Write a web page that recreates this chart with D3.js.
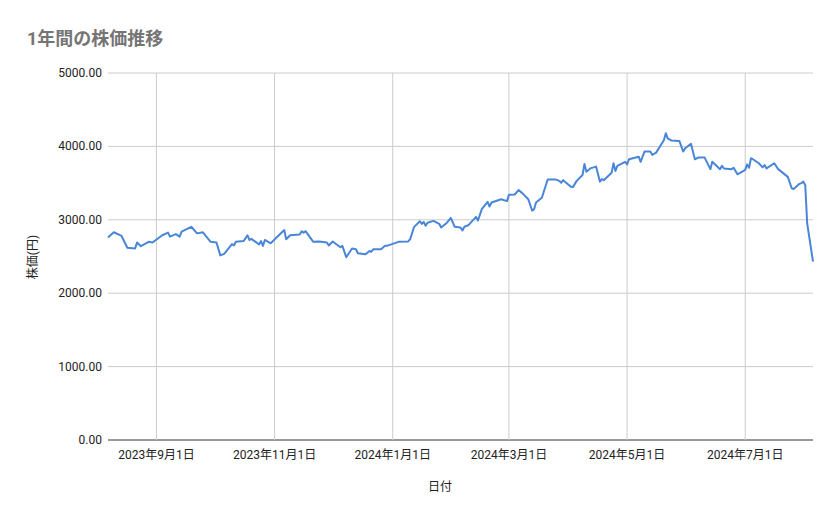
<!DOCTYPE html>
<html>
<head>
<meta charset="utf-8">
<script src="https://cdn.jsdelivr.net/npm/d3@7"></script>
<style>
body { margin: 0; background: #fff; }
text { font-family: Roboto, "Noto Sans CJK JP", sans-serif; }
</style>
</head>
<body>
<svg id="chart" width="839" height="519"></svg>
<script>
// values
var dates = [
 "2023-08-07","2023-08-10","2023-08-14","2023-08-17","2023-08-21","2023-08-22","2023-08-24","2023-08-28","2023-08-30",
 "2023-09-04","2023-09-07","2023-09-08","2023-09-11","2023-09-13","2023-09-14","2023-09-19","2023-09-22","2023-09-25","2023-09-29",
 "2023-10-02","2023-10-04","2023-10-06","2023-10-10","2023-10-11","2023-10-12","2023-10-16","2023-10-18","2023-10-19","2023-10-20",
 "2023-10-24","2023-10-25","2023-10-26","2023-10-27","2023-10-30",
 "2023-11-06","2023-11-07","2023-11-09","2023-11-14","2023-11-15","2023-11-16","2023-11-17","2023-11-21","2023-11-24","2023-11-28","2023-11-29",
 "2023-12-01","2023-12-05","2023-12-06","2023-12-08","2023-12-11","2023-12-13","2023-12-14","2023-12-18","2023-12-20","2023-12-21","2023-12-22",
 "2023-12-26","2023-12-28","2023-12-29",
 "2024-01-04","2024-01-09","2024-01-10","2024-01-12","2024-01-15","2024-01-16","2024-01-17","2024-01-18","2024-01-19","2024-01-22",
 "2024-01-25","2024-01-26","2024-01-29","2024-01-31",
 "2024-02-02","2024-02-05","2024-02-06","2024-02-07","2024-02-09","2024-02-13","2024-02-14","2024-02-16","2024-02-19","2024-02-20",
 "2024-02-21","2024-02-26","2024-02-29",
 "2024-03-01","2024-03-04","2024-03-06","2024-03-08","2024-03-11","2024-03-13","2024-03-14","2024-03-15","2024-03-18","2024-03-21",
 "2024-03-25","2024-03-27","2024-03-28","2024-03-29",
 "2024-04-02","2024-04-03","2024-04-05","2024-04-08","2024-04-09","2024-04-10","2024-04-12","2024-04-15","2024-04-17","2024-04-18",
 "2024-04-19","2024-04-23","2024-04-24","2024-04-25","2024-04-26","2024-04-30",
 "2024-05-01","2024-05-02","2024-05-07","2024-05-08","2024-05-10","2024-05-13","2024-05-14","2024-05-16","2024-05-20","2024-05-21",
 "2024-05-22","2024-05-24","2024-05-28","2024-05-30","2024-05-31",
 "2024-06-03","2024-06-05","2024-06-07","2024-06-10","2024-06-13","2024-06-14","2024-06-18","2024-06-19","2024-06-20","2024-06-24",
 "2024-06-25","2024-06-27",
 "2024-07-01","2024-07-02","2024-07-03","2024-07-04","2024-07-05","2024-07-08","2024-07-10","2024-07-11","2024-07-12","2024-07-16",
 "2024-07-18","2024-07-19","2024-07-23","2024-07-25","2024-07-26","2024-07-29","2024-07-30","2024-07-31",
 "2024-08-01","2024-08-02","2024-08-05"
];
var prices = [
 2760,2830,2780,2620,2610,2690,2640,2700,2690,
 2790,2825,2770,2805,2770,2840,2905,2815,2830,2700,
 2690,2515,2535,2670,2650,2700,2710,2790,2725,2740,
 2665,2710,2645,2725,2680,
 2860,2735,2790,2800,2845,2825,2845,2700,2705,2690,2650,
 2705,2625,2645,2490,2610,2600,2545,2530,2575,2565,2600,
 2600,2645,2645,
 2700,2705,2735,2900,2980,2945,2970,2920,2960,2985,
 2945,2895,2960,3025,
 2905,2895,2855,2905,2925,3040,2990,3145,3245,3180,
 3235,3280,3255,
 3340,3345,3405,3360,3280,3125,3145,3235,3300,3550,
 3550,3530,3505,3540,
 3450,3445,3530,3610,3760,3655,3700,3725,3520,3555,
 3540,3640,3770,3665,3735,3790,
 3755,3825,3860,3790,3930,3930,3885,3915,4085,4180,
 4110,4080,4075,3930,3975,
 4035,3825,3850,3850,3690,3790,3690,3735,3700,3690,
 3710,3620,
 3680,3755,3710,3840,3825,3770,3715,3745,3700,3770,
 3690,3670,3585,3430,3420,3490,3500,3520,
 3475,2950,2430
];
var yTicks = [0, 1000, 2000, 3000, 4000, 5000];
var xTicks = ["2023-09-01","2023-11-01","2024-01-01","2024-03-01","2024-05-01","2024-07-01"];

var parse = d3.timeParse("%Y-%m-%d");
var data = dates.map(function(d, i){ return { date: parse(d), price: prices[i] }; });

var svg = d3.select("#chart");
var plotLeft = 108, plotRight = 813, plotTop = 73, plotBottom = 440;

var x = d3.scaleTime()
  .domain([parse("2023-08-07"), parse("2024-08-05")])
  .range([plotLeft, plotRight]);
var y = d3.scaleLinear().domain([0, 5000]).range([plotBottom, plotTop]);

// horizontal grid
svg.append("g").selectAll("line")
  .data(yTicks).enter().append("line")
  .attr("x1", plotLeft).attr("x2", plotRight)
  .attr("y1", function(d){ return y(d); }).attr("y2", function(d){ return y(d); })
  .attr("stroke", function(d){ return d === 0 ? "#333" : "#ccc"; })
  .attr("stroke-width", 1);

// vertical grid
svg.append("g").selectAll("line")
  .data(xTicks.map(parse)).enter().append("line")
  .attr("x1", function(d){ return x(d); }).attr("x2", function(d){ return x(d); })
  .attr("y1", plotTop).attr("y2", plotBottom)
  .attr("stroke", "#ccc");

svg.append("g").selectAll("text")
  .data(yTicks).enter().append("text")
  .attr("x", plotLeft - 6).attr("y", function(d){ return y(d) + 4; })
  .attr("text-anchor", "end").attr("font-size", 12).attr("fill", "#222")
  .text(function(d){ return d3.format(".2f")(d); });

var fmt = d3.timeFormat("%Y");
svg.append("g").selectAll("text")
  .data(xTicks.map(parse)).enter().append("text")
  .attr("x", function(d){ return x(d); }).attr("y", 459)
  .attr("text-anchor", "middle").attr("font-size", 12).attr("fill", "#222")
  .text(function(d){ return fmt(d) + "年" + (d.getMonth() + 1) + "月" + d.getDate() + "日"; });

var line = d3.line()
  .x(function(d){ return x(d.date); })
  .y(function(d){ return y(d.price); });

svg.append("path")
  .datum(data)
  .attr("fill", "none")
  .attr("stroke", "#4a86d8")
  .attr("stroke-width", 2)
  .attr("stroke-linejoin", "round")
  .attr("d", line);

svg.append("text")
  .attr("x", 27).attr("y", 45)
  .attr("font-size", 18).attr("font-weight", "bold").attr("fill", "#757575")
  .text("1年間の株価推移");

svg.append("text")
  .attr("x", 440).attr("y", 491)
  .attr("text-anchor", "middle").attr("font-size", 12).attr("fill", "#222")
  .text("日付");

svg.append("text")
  .attr("transform", "translate(37,257) rotate(-90)")
  .attr("text-anchor", "middle").attr("font-size", 12).attr("fill", "#222")
  .text("株価(円)");
</script>
</body>
</html>
